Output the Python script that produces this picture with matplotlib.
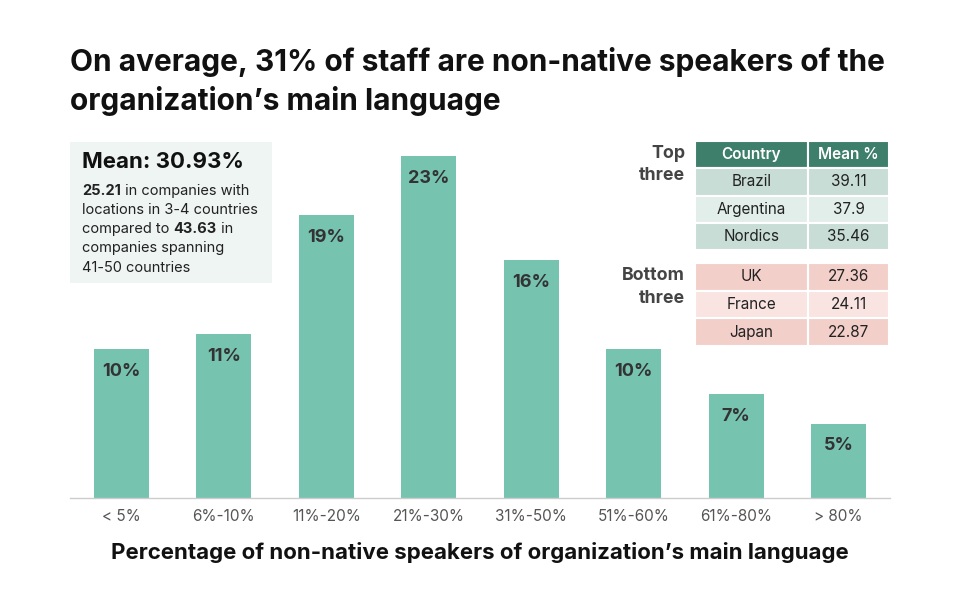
import matplotlib.pyplot as plt

plt.rcParams['font.family'] = ['Inter', 'DejaVu Sans']

categories = ['< 5%', '6%-10%', '11%-20%', '21%-30%', '31%-50%', '51%-60%', '61%-80%', '> 80%']
shares = [10, 11, 19, 23, 16, 10, 7, 5]

top_countries = ['Brazil', 'Argentina', 'Nordics']
top_means = ['39.11', '37.9', '35.46']
bottom_countries = ['UK', 'France', 'Japan']
bottom_means = ['27.36', '24.11', '22.87']

bar_color = '#76C3B0'
W, H = 960, 616

fig = plt.figure(figsize=(9.6, 6.16), dpi=100)


def fx(px):
    return px / W


def fy(py):
    return 1 - py / H


# bar chart
ax = fig.add_axes([fx(70), fy(498), fx(820), (498 - 130) / H])
x = range(len(categories))
bars = ax.bar(x, shares, width=0.54, color=bar_color, zorder=2)
ax.set_xlim(-0.5, 7.5)
ax.set_ylim(0, 24.75)
for b, v in zip(bars, shares):
    ax.annotate(f'{v}%', (b.get_x() + b.get_width() / 2, v), xytext=(0, -16),
                textcoords='offset points', ha='center', va='center',
                fontsize=13, fontweight='bold', color='#333333')
ax.set_xticks(list(x))
ax.set_xticklabels(categories, fontsize=11, color='#555555')
ax.tick_params(axis='x', length=0, pad=8)
ax.set_yticks([])
for s in ['top', 'left', 'right']:
    ax.spines[s].set_visible(False)
ax.spines['bottom'].set_color('#cccccc')
ax.spines['bottom'].set_linewidth(1)
ax.set_xlabel("Percentage of non-native speakers of organization\u2019s main language",
              fontsize=16, fontweight='bold', color='#111111', labelpad=13)

# title
fig.text(fx(70), fy(62), 'On average, 31% of staff are non-native speakers of the',
         fontsize=21.5, fontweight='bold', color='#111111', va='center')
fig.text(fx(70), fy(101), 'organization\u2019s main language',
         fontsize=21.5, fontweight='bold', color='#111111', va='center')

# annotation box
box = plt.Rectangle((fx(70), fy(283)), fx(202), (283 - 142) / H, transform=fig.transFigure,
                    facecolor='#EFF5F2', edgecolor='none', zorder=3)
fig.patches.append(box)
fig.text(fx(82), fy(162), 'Mean: 30.93%', fontsize=16, fontweight='bold',
         color='#111111', va='center', zorder=4)

lines = [
    (195, [('25.21', True), (' in companies with', False)]),
    (214, [('locations in 3-4 countries', False)]),
    (233, [('compared to ', False), ('43.63', True), (' in', False)]),
    (252, [('companies spanning', False)]),
    (272, [('41-50 countries', False)]),
]
fig.canvas.draw()
renderer = fig.canvas.get_renderer()
for py, parts in lines:
    xpos = fx(82)
    for txt, bold in parts:
        t = fig.text(xpos, fy(py), txt, fontsize=10.5, fontweight='bold' if bold else 'normal',
                     color='#222222', va='baseline', zorder=4)
        bb = t.get_window_extent(renderer)
        xpos += bb.width / fig.bbox.width


# tables
def draw_table(rect, rows, header, face_rows):
    tax = fig.add_axes(rect)
    tax.axis('off')
    tb = tax.table(cellText=rows, colLabels=header, bbox=[0, 0, 1, 1],
                   cellLoc='center', colWidths=[113, 81])
    tb.auto_set_font_size(False)
    for (r, c), cell in tb.get_celld().items():
        cell.set_edgecolor('white')
        cell.set_linewidth(1.5)
        cell.get_text().set_fontsize(11)
        cell.get_text().set_color('#222222')
        if header is not None and r == 0:
            cell.set_facecolor('#3E7F6B')
            cell.get_text().set_color('white')
            cell.get_text().set_fontweight('semibold')
        else:
            idx = r - 1 if header is not None else r
            cell.set_facecolor(face_rows[idx])
    return tb


draw_table([fx(695), fy(250), fx(194), 109 / H],
           [[c, m] for c, m in zip(top_countries, top_means)],
           ['Country', 'Mean %'], ['#C8DDD5', '#E2EEEA', '#C8DDD5'])
draw_table([fx(695), fy(346), fx(194), 83 / H],
           [[c, m] for c, m in zip(bottom_countries, bottom_means)],
           None, ['#F3CFCA', '#F9E4E1', '#F3CFCA'])

for py, txt in [(153, 'Top'), (175, 'three'), (276, 'Bottom'), (298, 'three')]:
    fig.text(fx(685), fy(py), txt, fontsize=12.8, fontweight='bold', color='#444444',
             ha='right', va='center')

fig.savefig('out.png', dpi=100)
